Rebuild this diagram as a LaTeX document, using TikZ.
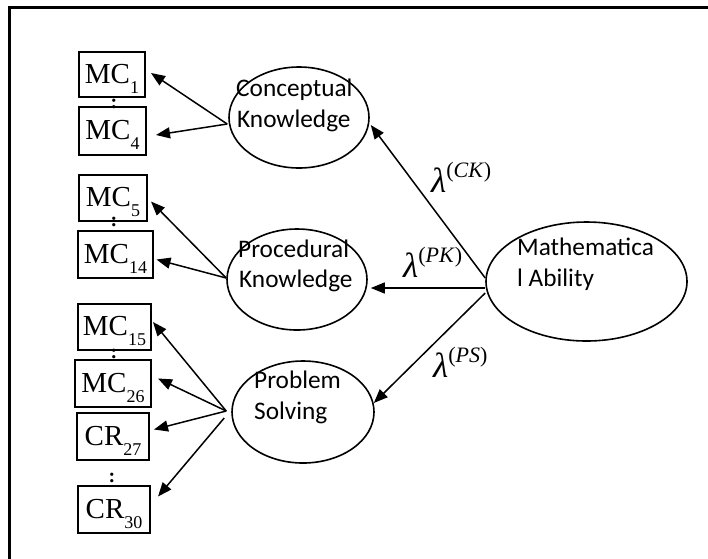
\documentclass[tikz,border=0pt]{standalone}
\usepackage{fontspec}
\usetikzlibrary{arrows.meta,shapes.geometric}
\newfontfamily\calfont{Carlito}
\newfontfamily\tmsfont{Liberation Serif}
\newcommand\mysub[2]{#1\raisebox{-10pt}{\fontsize{18}{18}\selectfont #2}}
\newcommand\mylam[1]{{\fontsize{35}{35}\selectfont\itshape λ}\raisebox{15pt}{\fontsize{22}{22}\selectfont(\textit{#1})}}
\begin{document}
\begin{tikzpicture}[x=1pt,y=-1pt,
  obs/.style={draw,line width=2pt,inner sep=0pt,text height=23pt,text depth=6pt,font=\tmsfont\fontsize{29}{29}\selectfont},
  lat/.style={draw,ellipse,line width=1.6pt,inner sep=0pt},
  lbl/.style={anchor=base west,inner sep=0pt,font=\calfont\fontsize{25.3}{25.3}\selectfont},
  arr/.style={line width=1.5pt,-{Triangle[length=14pt,width=11pt]}},
  dotsym/.style={inner sep=0pt,font=\tmsfont\bfseries\fontsize{20}{20}\selectfont},
  lam/.style={anchor=base west,inner sep=0pt,font=\tmsfont}]
\useasboundingbox (0,0) rectangle (708,558);
% frame
\draw[line width=2.3pt] (9.5,560) -- (9.5,7.5) -- (710,7.5);
% observed boxes
\node[obs,minimum width=66pt,minimum height=45pt] (mc1) at (112,74.5) {\mysub{MC}{1}};
\node[obs,minimum width=67pt,minimum height=48pt] (mc4) at (112.5,131) {\mysub{MC}{4}};
\node[obs,minimum width=68pt,minimum height=46pt] (mc5) at (113,198) {\mysub{MC}{5}};
\node[obs,minimum width=75pt,minimum height=47pt] (mc14) at (115.5,254.5) {\mysub{MC}{14}};
\node[obs,minimum width=73pt,minimum height=46pt] (mc15) at (114.5,327) {\mysub{MC}{15}};
\node[obs,minimum width=76pt,minimum height=47pt] (mc26) at (113,383.5) {\mysub{MC}{26}};
\node[obs,minimum width=72pt,minimum height=47pt] (cr27) at (113,436.5) {\mysub{CR}{27}};
\node[obs,minimum width=72pt,minimum height=47pt] (cr30) at (114,509.5) {\mysub{CR}{30}};
% colons
\node[dotsym] (d1) at (114,104) {:};
\node[dotsym] (d2) at (114,222) {:};
\node[dotsym] (d3) at (114,354) {:};
\node[dotsym] (d4) at (112,478) {:};
% latent ellipses
\node[lat,minimum width=140pt,minimum height=101pt] (ck) at (299,117.5) {};
\node[lat,minimum width=140pt,minimum height=101pt] (pk) at (297,279.5) {};
\node[lat,minimum width=142pt,minimum height=102pt] (ps) at (303,412) {};
\node[lat,minimum width=201pt,minimum height=119pt] (ma) at (586.5,281.5) {};
% ellipse texts
\node[lbl] (ck1) at (236,96) {Conceptual};
\node[lbl] (ck2) at (237,127) {Knowledge};
\node[lbl] (pk1) at (238,257) {Procedural};
\node[lbl] (pk2) at (239,287) {Knowledge};
\node[lbl] (ps1) at (254,388) {Problem};
\node[lbl] (ps2) at (254,419) {Solving};
\node[lbl] (ma1) at (517,255) {Mathematica};
\node[lbl] (ma2) at (517,286) {l Ability};
% loadings labels
\node[lam] (lck) at (431,192) {\mylam{CK}};
\node[lam] (lpk) at (403,277) {\mylam{PK}};
\node[lam] (lps) at (433,377) {\mylam{PS}};
% arrows from Conceptual Knowledge
\draw[arr] ([xshift=-1pt,yshift=-6.5pt]ck.west) -- ([xshift=5pt,yshift=1.5pt]mc1.east);
\draw[arr] ([xshift=-1pt,yshift=-6.5pt]ck.west) -- ([xshift=9pt,yshift=-4pt]mc4.east);
% arrows from Procedural Knowledge
\draw[arr] ([yshift=1.5pt]pk.west) -- ([xshift=3pt,yshift=-3.5pt]mc5.east);
\draw[arr] ([yshift=1.5pt]pk.west) -- ([xshift=2.5pt,yshift=-5pt]mc14.east);
% arrows from Problem Solving
\draw[arr] ([xshift=-5pt,yshift=1pt]ps.west) -- ([xshift=1pt,yshift=5pt]mc15.east);
\draw[arr] ([xshift=-5pt,yshift=1pt]ps.west) -- ([xshift=6pt,yshift=5pt]mc26.east);
\draw[arr] ([xshift=-5pt,yshift=1pt]ps.west) -- ([xshift=4pt,yshift=7pt]cr27.east);
\draw[arr] ([xshift=-7pt,yshift=-6pt]ps.west) -- ([xshift=7pt,yshift=13pt]cr30.east);
% arrows from Mathematical Ability
\draw[arr] ([yshift=3.5pt]ma.west) -- ([xshift=1pt,yshift=-7.5pt]ck.east);
\draw[arr] ([yshift=-6.5pt]ma.west) -- ([xshift=3pt,yshift=-8.5pt]pk.east);
\draw[arr] ([yshift=-11.5pt]ma.west) -- ([xshift=-1pt,yshift=9pt]ps.east);
\end{tikzpicture}
\end{document}
